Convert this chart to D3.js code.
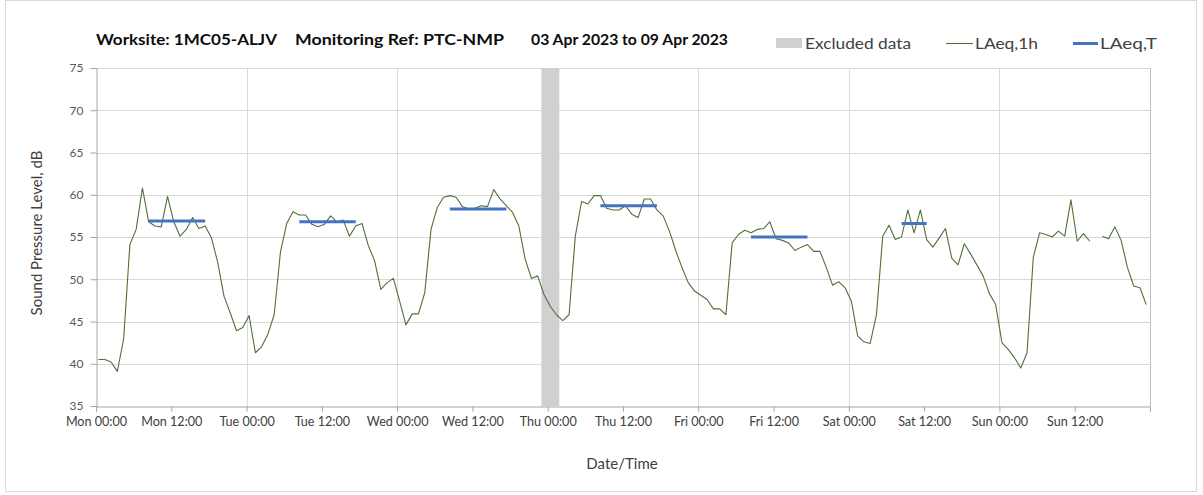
<!DOCTYPE html>
<html>
<head>
<meta charset="utf-8">
<script src="https://cdn.jsdelivr.net/npm/d3@7"></script>
<style>
  html, body { margin: 0; padding: 0; background: #ffffff; }
  svg { display: block; }
  text { font-family: Lato, "Open Sans", sans-serif; }
</style>
</head>
<body>
<svg id="chart" width="1203" height="495"></svg>
<script>
// ---------------- data ----------------
// hourly LAeq,1h values, Mon 03 Apr 2023 00:00 onward (one value per hour, null = missing)
const laeq1hMon = [40.5,40.5,40.2,39.1,42.9,54.1,55.9,60.8,56.8,56.3,56.2,59.8,56.8,55.1,55.9,57.3,56.0,56.3,54.9,52.0,48.0,46.0,43.9,44.3];
const laeq1hTue = [45.7,41.3,42.0,43.5,45.8,53.2,56.6,58.0,57.6,57.6,56.5,56.2,56.5,57.5,56.8,57.0,55.1,56.3,56.6,54.0,52.2,48.8,49.6,50.1];
const laeq1hWed = [47.4,44.6,45.9,45.9,48.4,55.9,58.5,59.7,59.9,59.7,58.6,58.3,58.4,58.7,58.6,60.6,59.5,58.7,57.9,56.3,52.4,50.1,50.4,48.2];
const laeq1hThu = [46.8,45.8,45.1,45.8,55.1,59.2,58.9,59.9,59.9,58.4,58.2,58.2,58.7,57.7,57.3,59.5,59.5,58.2,57.5,55.7,53.4,51.4,49.6,48.6];
const laeq1hFri = [48.1,47.6,46.5,46.5,45.8,54.3,55.3,55.8,55.5,55.9,56.0,56.8,54.8,54.6,54.3,53.4,53.8,54.1,53.3,53.3,51.4,49.3,49.7,49.0];
const laeq1hSat = [47.4,43.3,42.6,42.4,45.8,55.1,56.4,54.7,55.0,58.2,55.5,58.2,54.7,53.8,54.9,56.0,52.5,51.7,54.2,53.0,51.7,50.4,48.3,47.0];
const laeq1hSun = [42.5,41.7,40.7,39.5,41.3,52.6,55.5,55.3,55.0,55.7,55.1,59.4,54.5,55.4,54.5,null,55.1,54.8,56.2,54.6,51.4,49.2,49.0,47.0];

// sample position offset within each hour (hours)
const sampleOffset = 0.4;

// LAeq,T daytime periods (hour index from Mon 00:00, inclusive) and values
const laeqTFrom   = [8, 32, 56, 80, 104, 128];
const laeqTTo     = [17, 41, 65, 89, 113, 132];
const laeqTValues = [56.9, 56.8, 58.3, 58.7, 55.0, 56.6];

// excluded data period (hours from Mon 00:00)
const excludedFrom = [71.0];
const excludedTo   = [73.85];

// axis ticks
const xTickHours  = [0,12,24,36,48,60,72,84,96,108,120,132,144,156,168];
const xTickLabels = ["Mon 00:00","Mon 12:00","Tue 00:00","Tue 12:00","Wed 00:00","Wed 12:00","Thu 00:00","Thu 12:00","Fri 00:00","Fri 12:00","Sat 00:00","Sat 12:00","Sun 00:00","Sun 12:00",""];
const xGridHours  = [24,48,72,96,120,144];
const yTicks      = [35,40,45,50,55,60,65,70,75];

const titleParts = ["Worksite: 1MC05-ALJV", "Monitoring Ref: PTC-NMP", "03 Apr 2023 to 09 Apr 2023"];
const legendLabels = ["Excluded data", "LAeq,1h", "LAeq,T"];

// ---------------- drawing ----------------
const svg = d3.select("#chart");
const plotL = 96, plotR = 1150, plotT = 68, plotB = 406;

const x = d3.scaleLinear().domain([0, 168]).range([plotL, plotR]);
const y = d3.scaleLinear().domain([35, 75]).range([plotB, plotT]);

const values = [].concat(laeq1hMon, laeq1hTue, laeq1hWed, laeq1hThu, laeq1hFri, laeq1hSat, laeq1hSun);
const series = values.map((v, i) => ({ t: i + sampleOffset, v: v }));

// outer frame
svg.append("rect").attr("x", 5.5).attr("y", 0.5).attr("width", 1191).attr("height", 491)
  .attr("fill", "none").attr("stroke", "#d9d9d9").attr("stroke-width", 1);

// horizontal gridlines
svg.append("g").selectAll("line").data(yTicks.filter(d => d > 35)).join("line")
  .attr("x1", plotL).attr("x2", plotR)
  .attr("y1", d => Math.round(y(d)) + 0.5).attr("y2", d => Math.round(y(d)) + 0.5)
  .attr("stroke", "#d9d9d9").attr("stroke-width", 1);

// vertical gridlines (day boundaries)
svg.append("g").selectAll("line").data(xGridHours).join("line")
  .attr("x1", d => Math.round(x(d)) + 0.5).attr("x2", d => Math.round(x(d)) + 0.5)
  .attr("y1", plotT).attr("y2", plotB)
  .attr("stroke", "#d9d9d9").attr("stroke-width", 1);

// excluded band
svg.append("g").selectAll("rect").data(excludedFrom.map((f, i) => [f, excludedTo[i]])).join("rect")
  .attr("x", d => x(d[0])).attr("width", d => x(d[1]) - x(d[0]))
  .attr("y", plotT).attr("height", plotB - plotT)
  .attr("fill", "#d0d0d0");

// right border
svg.append("line").attr("x1", plotR + 0.5).attr("x2", plotR + 0.5).attr("y1", plotT).attr("y2", plotB)
  .attr("stroke", "#bfbfbf").attr("stroke-width", 1);

// y axis
const yAxis = d3.axisLeft(y).tickValues(yTicks).tickSize(6).tickPadding(7).tickFormat(d3.format("d"));
const gy = svg.append("g").attr("transform", `translate(${plotL + 0.5},0)`).call(yAxis);
gy.select(".domain").attr("stroke", "#a6a6a6");
gy.selectAll(".tick line").attr("stroke", "#a6a6a6");
gy.selectAll(".tick text").attr("fill", "#595959").style("font-size", "12px").style("font-family", "Lato, sans-serif");

// x axis
const xAxis = d3.axisBottom(x).tickValues(xTickHours).tickSize(5).tickPadding(6)
  .tickFormat((d, i) => xTickLabels[i]);
const gx = svg.append("g").attr("transform", `translate(0,${plotB + 0.5})`).call(xAxis);
gx.select(".domain").attr("stroke", "#a6a6a6");
gx.selectAll(".tick line").attr("stroke", "#a6a6a6");
gx.selectAll(".tick text").attr("fill", "#404040").style("font-size", "12.6px").style("font-family", "Lato, sans-serif");

// LAeq,1h line
const line = d3.line().defined(d => d.v !== null).x(d => x(d.t)).y(d => y(d.v));
svg.append("path").datum(series).attr("d", line)
  .attr("fill", "none").attr("stroke", "#50703a").attr("stroke-width", 1.1).attr("stroke-linejoin", "round");

// LAeq,T segments
svg.append("g").selectAll("line").data(laeqTValues.map((v, i) => ({ a: laeqTFrom[i], b: laeqTTo[i], v }))).join("line")
  .attr("x1", d => x(d.a + sampleOffset)).attr("x2", d => x(d.b + sampleOffset))
  .attr("y1", d => y(d.v)).attr("y2", d => y(d.v))
  .attr("stroke", "#4472c4").attr("stroke-width", 3);

// title
const titleX = [96, 295, 531];
const titleW = [181, 209, 197];
titleParts.forEach((t, i) => {
  svg.append("text").attr("x", titleX[i]).attr("y", 45).text(t)
    .attr("textLength", titleW[i]).attr("lengthAdjust", "spacingAndGlyphs")
    .style("font-size", "15px").style("font-weight", "bold").attr("fill", "#0d0d0d");
});

// legend
svg.append("rect").attr("x", 776).attr("y", 38).attr("width", 26).attr("height", 10).attr("fill", "#d0d0d0");
svg.append("text").attr("x", 805).attr("y", 48.5).text(legendLabels[0])
  .attr("textLength", 106).attr("lengthAdjust", "spacingAndGlyphs")
  .style("font-size", "15.5px").attr("fill", "#404040");
svg.append("line").attr("x1", 946).attr("x2", 973).attr("y1", 43.5).attr("y2", 43.5)
  .attr("stroke", "#50703a").attr("stroke-width", 1.1);
svg.append("text").attr("x", 975).attr("y", 48.5).text(legendLabels[1])
  .attr("textLength", 63).attr("lengthAdjust", "spacingAndGlyphs")
  .style("font-size", "15.5px").attr("fill", "#404040");
svg.append("line").attr("x1", 1073).attr("x2", 1098).attr("y1", 43.5).attr("y2", 43.5)
  .attr("stroke", "#4472c4").attr("stroke-width", 3);
svg.append("text").attr("x", 1100).attr("y", 48.5).text(legendLabels[2])
  .attr("textLength", 57).attr("lengthAdjust", "spacingAndGlyphs")
  .style("font-size", "15.5px").attr("fill", "#404040");

// axis titles
svg.append("text").attr("transform", "translate(42,233) rotate(-90)").attr("text-anchor", "middle")
  .text("Sound Pressure Level, dB").style("font-size", "15px").attr("fill", "#404040");
svg.append("text").attr("x", 622).attr("y", 469).attr("text-anchor", "middle")
  .text("Date/Time").style("font-size", "15px").attr("fill", "#404040");
</script>
</body>
</html>
